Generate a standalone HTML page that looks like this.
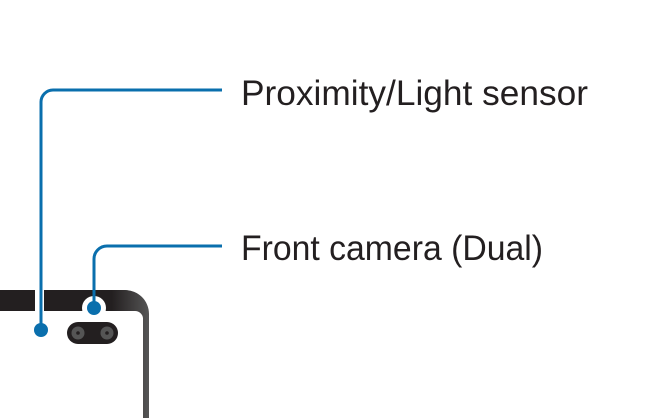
<!DOCTYPE html>
<html><head><style>html,body{margin:0;padding:0;background:#fff;width:658px;height:418px;overflow:hidden}</style></head>
<body>
<svg width="658" height="418" viewBox="0 0 658 418" xmlns="http://www.w3.org/2000/svg">
<defs>
<linearGradient id="g" x1="0" y1="0" x2="1" y2="0">
<stop offset="0" stop-color="#231f20"/><stop offset="0.75" stop-color="#231f20"/><stop offset="1" stop-color="#555"/>
</linearGradient>
</defs>
<path d="M0 290 H125 A24 24 0 0 1 149 314 V418 H143 V318 A8 8 0 0 0 135 311 H0 Z" fill="url(#g)"/>
<rect x="35" y="288" width="9" height="26" fill="#fff"/>
<circle cx="94" cy="308" r="12" fill="#fff"/>
<rect x="67" y="322" width="51" height="22" rx="11" fill="#231f20"/>
<circle cx="78" cy="333" r="6.5" fill="#555"/><circle cx="78" cy="333" r="1.8" fill="#231f20"/>
<circle cx="107" cy="333" r="6.5" fill="#555"/><circle cx="107" cy="333" r="1.8" fill="#231f20"/>
<path d="M222 90 H53 A12 12 0 0 0 41 102 V330" fill="none" stroke="#0a6fad" stroke-width="3"/>
<circle cx="41" cy="330" r="7" fill="#0a6fad"/>
<path d="M222 246 H107 A13 13 0 0 0 94 259 V308" fill="none" stroke="#0a6fad" stroke-width="3"/>
<circle cx="94" cy="308" r="7" fill="#0a6fad"/>
<text x="241" y="105" font-family="Liberation Sans, sans-serif" font-size="35" fill="#231f20" textLength="347" lengthAdjust="spacingAndGlyphs">Proximity/Light sensor</text>
<text x="241" y="260" font-family="Liberation Sans, sans-serif" font-size="35" fill="#231f20" textLength="302" lengthAdjust="spacingAndGlyphs">Front camera (Dual)</text>
</svg>
</body></html>
